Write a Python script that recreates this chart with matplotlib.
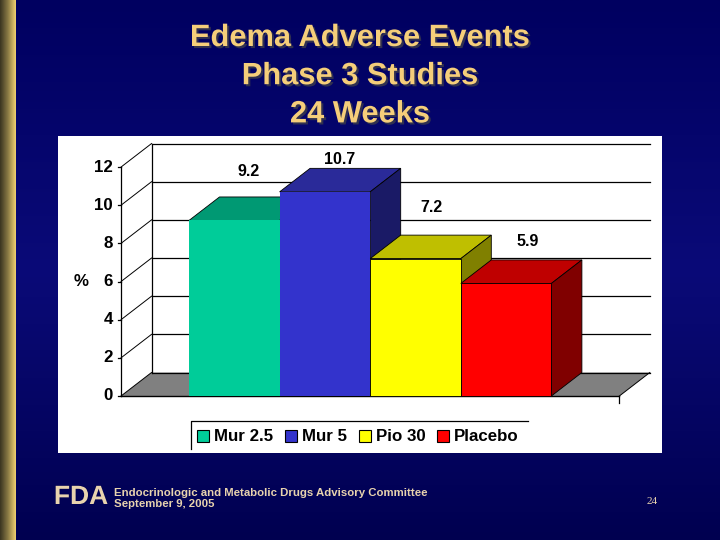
import numpy as np
import matplotlib
matplotlib.use("Agg")
import matplotlib.pyplot as plt
import matplotlib.patheffects as pe
from matplotlib.colors import LinearSegmentedColormap
from matplotlib.patches import Polygon, Rectangle

plt.rcParams["font.family"] = ["Liberation Sans", "DejaVu Sans"]

# Data
series = ["Mur 2.5", "Mur 5", "Pio 30", "Placebo"]
values = [9.2, 10.7, 7.2, 5.9]
value_labels = ["9.2", "10.7", "7.2", "5.9"]
y_ticks = [0, 2, 4, 6, 8, 10, 12]
title_lines = ["Edema Adverse Events", "Phase 3 Studies", "24 Weeks"]
footer_lines = ["Endocrinologic and Metabolic Drugs Advisory Committee", "September 9, 2005"]
page_number = "24"

# Colours: front, top, side
front_colors = ["#00CC99", "#3333CC", "#FFFF00", "#FF0000"]
top_colors = ["#009973", "#2A2A99", "#BFBF00", "#BF0000"]
side_colors = ["#00664C", "#1A1A66", "#808000", "#800000"]
front_edges = ["none", "none", "black", "black"]

# Layout in pixels of the slide
bar_left_px = 189.0
bar_width_px = 90.6
zero_px = 396.0
unit_px = 19.08
depth_x = 30.5 / bar_width_px
depth_y = 23.5 / unit_px

fig = plt.figure(figsize=(7.2, 5.4), dpi=100)

# Slide background in pixel coordinates
bg = fig.add_axes([0, 0, 1, 1])
bg.set_xlim(0, 720)
bg.set_ylim(540, 0)
bg.axis("off")

navy = LinearSegmentedColormap.from_list("navy", ["#000060", "#0A0A78", "#000050"])
bg.imshow(np.linspace(0, 1, 256).reshape(-1, 1), cmap=navy, extent=[0, 720, 540, 0], aspect="auto")
gold = LinearSegmentedColormap.from_list("gold", ["#3A3420", "#8A7A45", "#F0D070"])
bg.imshow(np.linspace(0, 1, 64).reshape(1, -1), cmap=gold, extent=[0, 16, 540, 0], aspect="auto")
bg.set_xlim(0, 720)
bg.set_ylim(540, 0)

# Title
for i, line in enumerate(title_lines):
    bg.text(
        360, 38 + i * 38.2, line,
        ha="center", va="center",
        fontsize=22.2, fontweight="bold", color="#F5CE7A",
        path_effects=[pe.withSimplePatchShadow(offset=(1.5, -1.5), shadow_rgbFace="#303050", alpha=1)]
    )

# White chart panel
bg.add_patch(Rectangle((58, 136), 604, 317, facecolor="white", edgecolor="none"))

# Footer
bg.text(
    81, 497, "FDA",
    ha="center", va="center", fontsize=19, fontweight="bold", color="#E8D3AE",
    path_effects=[pe.withStroke(linewidth=0.8, foreground="#000050")]
)
for i, line in enumerate(footer_lines):
    bg.text(
        114, 493 + i * 11, line,
        ha="left", va="center", fontsize=8.2, fontweight="bold", color="#E8D3AE"
    )
bg.text(652, 501, page_number, ha="center", va="center", fontsize=8, family="Liberation Serif", color="#E8D3AE")

# Chart axes: x in bar widths, y in percent
ax = fig.add_axes([0, 0, 1, 1])
ax.patch.set_visible(False)
ax.axis("off")
ax.set_xlim(-bar_left_px / bar_width_px, (720 - bar_left_px) / bar_width_px)
ax.set_ylim((zero_px - 540) / unit_px, zero_px / unit_px)

x_start = -0.75
x_end = 4.75
y_max = y_ticks[-1]

# Floor
ax.add_patch(Polygon(
    [(x_start, 0), (x_end, 0), (x_end + depth_x, depth_y), (x_start + depth_x, depth_y)],
    facecolor="#808080", edgecolor="none", zorder=1
))

# Back wall and left wall
for t in y_ticks:
    ax.plot([x_start + depth_x, x_end + depth_x], [t + depth_y, t + depth_y], color="black", lw=0.9, zorder=2)
    ax.plot([x_start, x_start + depth_x], [t, t + depth_y], color="black", lw=0.7, zorder=2)
    ax.plot([x_start - 0.03, x_start], [t, t], color="black", lw=0.9, zorder=2)
    ax.text(x_start - 0.09, t, str(t), ha="right", va="center", fontsize=12.2, fontweight="bold", color="black")
ax.plot([x_start, x_start], [0, y_max], color="black", lw=0.9, zorder=2)
ax.plot([x_start + depth_x] * 2, [depth_y, y_max + depth_y], color="black", lw=0.9, zorder=2)
ax.plot([x_start, x_end], [0, 0], color="black", lw=1.0, zorder=2)
ax.plot([x_end, x_end], [0, -0.35], color="black", lw=0.9, zorder=2)
ax.plot([x_end, x_end + depth_x], [0, depth_y], color="black", lw=0.7, zorder=2)
ax.text(x_start - 0.44, 6, "%", ha="center", va="center", fontsize=12.2, fontweight="bold", color="black")

# Bars
for i, v in enumerate(values):
    z = 3 + i
    ax.add_patch(Polygon(
        [(i, v), (i + 1, v), (i + 1 + depth_x, v + depth_y), (i + depth_x, v + depth_y)],
        facecolor=top_colors[i], edgecolor="black", lw=0.6, zorder=z
    ))
    ax.add_patch(Polygon(
        [(i + 1, 0), (i + 1 + depth_x, depth_y), (i + 1 + depth_x, v + depth_y), (i + 1, v)],
        facecolor=side_colors[i], edgecolor="black", lw=0.6, zorder=z
    ))
    ax.add_patch(Rectangle((i, 0), 1, v, facecolor=front_colors[i], edgecolor=front_edges[i], lw=0.6, zorder=z))

# Value labels sit at hand-picked offsets above the bars, as in the original
label_offsets = [49, 32, 51, 42]
label_shift = [14, 15, 16, 22]
for i, v in enumerate(values):
    ax.annotate(
        value_labels[i], (i + 0.5, v),
        xytext=(label_shift[i] * 0.72, label_offsets[i] * 0.72), textcoords="offset points",
        ha="center", va="center", fontsize=11.5, fontweight="bold", color="black", zorder=10
    )

# Legend with open bottom and right, as in the original
bg_legend = fig.add_axes([0, 0, 1, 1])
bg_legend.patch.set_visible(False)
bg_legend.axis("off")
bg_legend.set_xlim(0, 720)
bg_legend.set_ylim(540, 0)
bg_legend.plot([191, 191, 528], [449, 421, 421], color="black", lw=0.9)
swatch_x = [197, 285, 359, 437]
label_x = [214, 302, 376, 454]
for i, name in enumerate(series):
    bg_legend.add_patch(Rectangle((swatch_x[i], 430), 12, 12, facecolor=front_colors[i], edgecolor="black", lw=0.8))
    bg_legend.text(label_x[i], 436.5, name, ha="left", va="center", fontsize=12.2, fontweight="bold", color="black")

fig.savefig("out.png", dpi=100)
plt.close(fig)
